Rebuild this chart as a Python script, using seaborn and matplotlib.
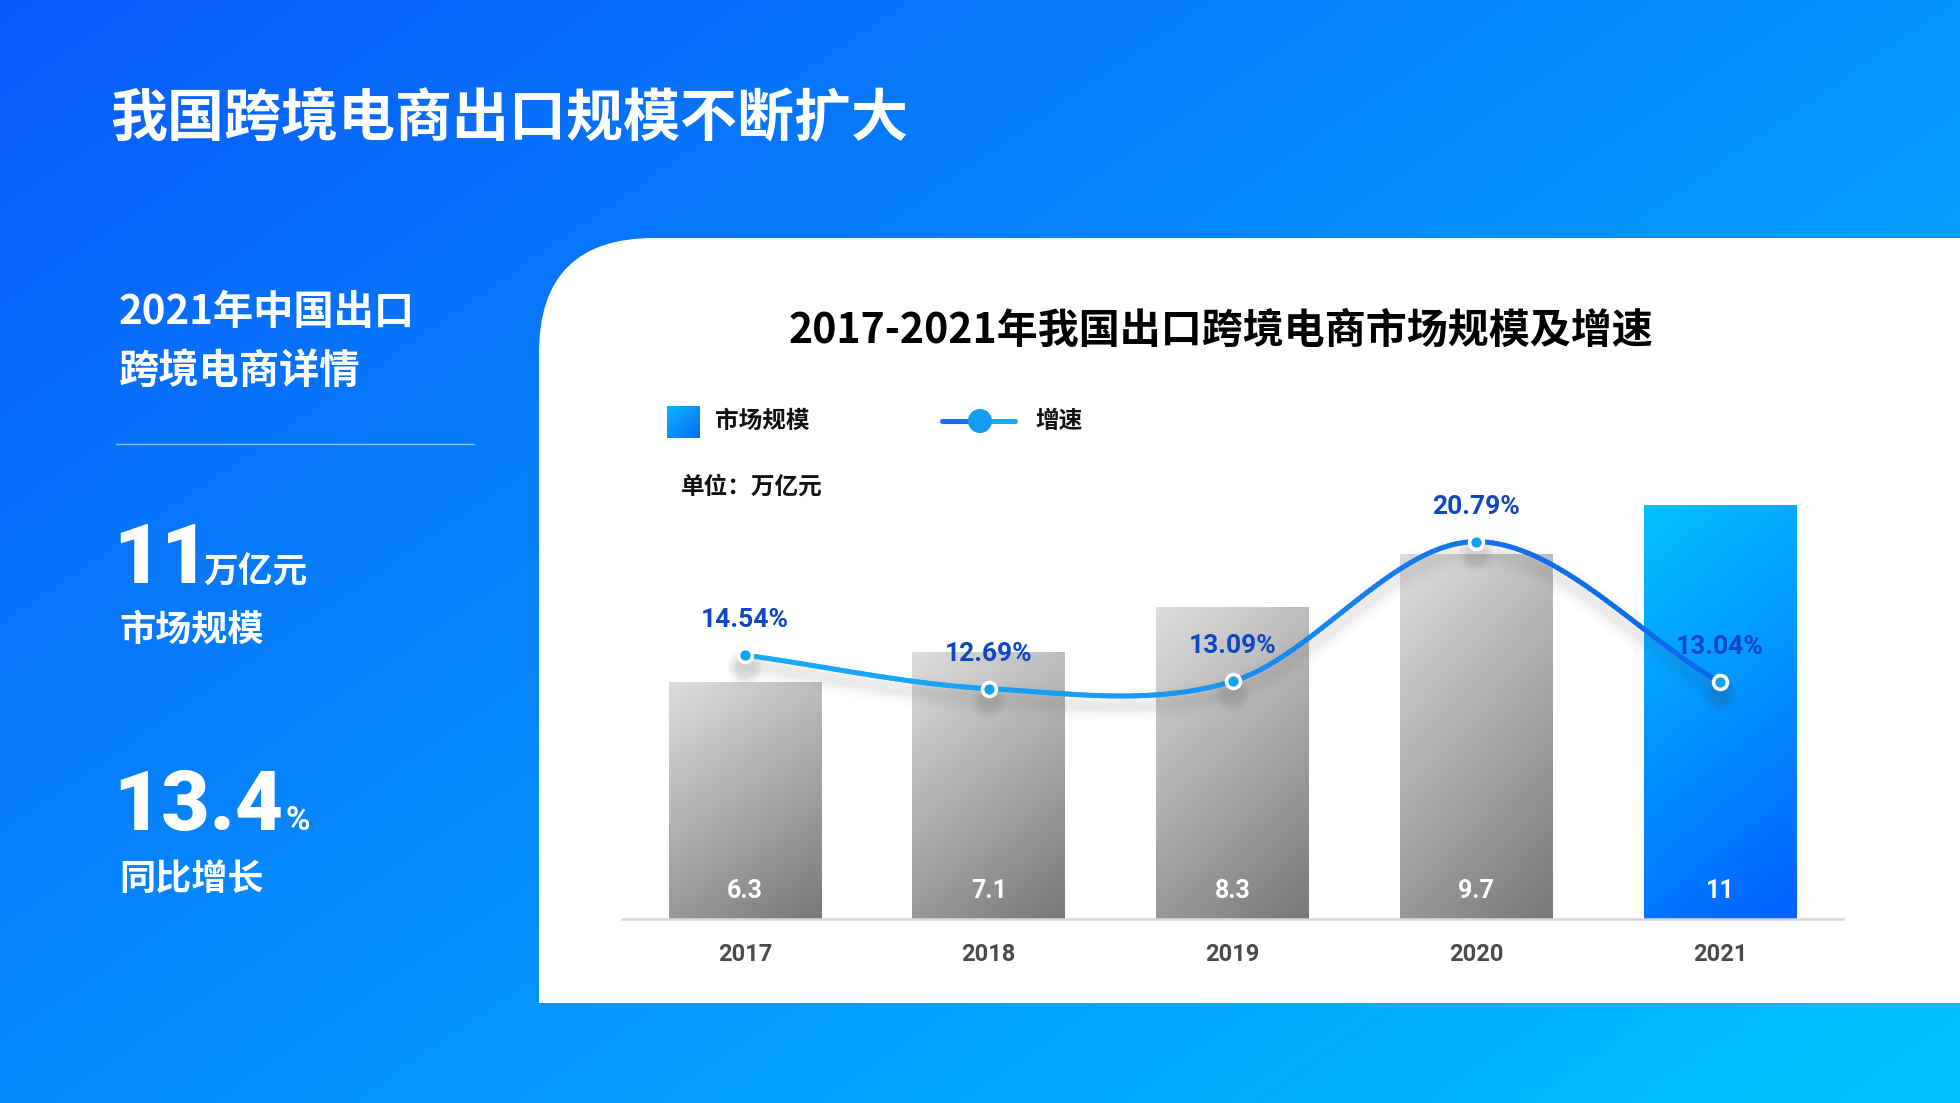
import numpy as np
import pandas as pd
import matplotlib
matplotlib.use('Agg')
import matplotlib.pyplot as plt
import seaborn as sns
from matplotlib.path import Path
from matplotlib.patches import PathPatch
from matplotlib.collections import LineCollection
from matplotlib.colors import LinearSegmentedColormap, to_rgb

# ---------------- data ----------------
years = ['2017', '2018', '2019', '2020', '2021']
market_size = [6.3, 7.1, 8.3, 9.7, 11]
growth = [14.54, 12.69, 13.09, 20.79, 13.04]
size_labels = ['6.3', '7.1', '8.3', '9.7', '11']
growth_labels = ['14.54%', '12.69%', '13.09%', '20.79%', '13.04%']

page_title = '我国跨境电商出口规模不断扩大'
chart_title = '2017-2021年我国出口跨境电商市场规模及增速'
side_head = ['2021年中国出口', '跨境电商详情']
kpi1_value, kpi1_unit, kpi1_label = '11', '万亿元', '市场规模'
kpi2_value, kpi2_unit, kpi2_label = '13.4', '%', '同比增长'
legend_bar, legend_line = '市场规模', '增速'
unit_text = '单位：万亿元'

df = pd.DataFrame({'year': years, 'size': market_size, 'growth': growth})

# ---------------- setup ----------------
W, H = 1960, 1103
sns.set_theme(style='white')
plt.rcParams['font.family'] = ['Noto Sans CJK SC', 'DejaVu Sans']
NUM = ['Roboto', 'Noto Sans CJK SC', 'DejaVu Sans']

fig = plt.figure(figsize=(W / 100, H / 100), dpi=100)
renderer = fig.canvas.get_renderer()

# background overlay axes in pixel coordinates (y down)
bg = fig.add_axes([0, 0, 1, 1])
bg.set_xlim(0, W)
bg.set_ylim(H, 0)
bg.axis('off')

yy, xx = np.mgrid[0:H:4, 0:W:4]
t = np.clip(xx / W * 0.55 + yy / H * 0.45, 0, 1)
c0 = np.array(to_rgb('#0a5afc'))
c1 = np.array(to_rgb('#00c4ff'))
img = c0 + (c1 - c0) * t[..., None]
bg.imshow(img, extent=(0, W, H, 0), aspect='auto', interpolation='bilinear', zorder=0)

# white card with rounded top-left corner
x0, x1, y0, y1, r = 539, W + 5, 238, 1003, 115
verts = [(x0, y1), (x0, y0 + r), (x0, y0), (x0 + r, y0), (x1, y0), (x1, y1), (x0, y1)]
codes = [Path.MOVETO, Path.LINETO, Path.CURVE3, Path.CURVE3, Path.LINETO, Path.LINETO, Path.CLOSEPOLY]
bg.add_patch(PathPatch(Path(verts, codes), facecolor='white', edgecolor='none', zorder=1))

# page title
bg.text(110, 119, page_title, color='white', fontsize=41, fontweight='heavy',
        ha='left', va='center', zorder=3)

# left side panel
bg.text(119, 312, side_head[0], color='white', fontsize=29, fontweight='bold', ha='left', va='center', zorder=3)
bg.text(119, 371, side_head[1], color='white', fontsize=29, fontweight='bold', ha='left', va='center', zorder=3)
bg.plot([116, 474], [444, 444], color='white', alpha=0.55, lw=1.0, zorder=3)

v1 = bg.text(113, 583, kpi1_value, color='white', fontsize=60, fontweight='black', family=NUM,
             ha='left', va='baseline', zorder=3)
x_after1 = v1.get_window_extent(renderer).x1
bg.text(x_after1 - 6, 583, kpi1_unit, color='white', fontsize=25, fontweight='bold',
        ha='left', va='baseline', zorder=3)
bg.text(119, 630, kpi1_label, color='white', fontsize=26, fontweight='bold', ha='left', va='center', zorder=3)

v2 = bg.text(113, 830, kpi2_value, color='white', fontsize=60, fontweight='black', family=NUM,
             ha='left', va='baseline', zorder=3)
x_after2 = v2.get_window_extent(renderer).x1
bg.text(x_after2 + 2, 830, kpi2_unit, color='white', fontsize=24, fontweight='bold', family=NUM,
        ha='left', va='baseline', zorder=3)
bg.text(119, 879, kpi2_label, color='white', fontsize=26, fontweight='bold', ha='left', va='center', zorder=3)

# chart title
bg.text(1221, 331, chart_title, color='black', fontsize=29.5, fontweight='bold', ha='center', va='center', zorder=3)

# legend
sq = np.linspace(0, 1, 50)
sv, su = np.meshgrid(sq, sq, indexing='ij')
st = np.clip(0.5 * su + 0.5 * sv, 0, 1)
ca, cb = np.array(to_rgb('#07b6ff')), np.array(to_rgb('#0a6cf5'))
bg.imshow(ca + (cb - ca) * st[..., None], extent=(667, 700, 438, 406), aspect='auto', zorder=3)
bg.text(715, 421, legend_bar, color='#111111', fontsize=17, fontweight='bold', ha='left', va='center', zorder=3)
bg.plot([942, 980], [421, 421], color='#1670ef', lw=3.6, solid_capstyle='round', zorder=3)
bg.plot([980, 1015], [421, 421], color='#19a8f4', lw=3.6, solid_capstyle='round', zorder=3)
bg.scatter([980], [421], s=300, color='#129cf5', edgecolor='none', zorder=4)
bg.text(1035, 421, legend_line, color='#111111', fontsize=17, fontweight='bold', ha='left', va='center', zorder=3)
bg.text(681, 487, unit_text, color='#111111', fontsize=17, fontweight='bold', ha='left', va='center', zorder=3)

# ---------------- chart ----------------
base_px, top_px = 919, 380
ax = fig.add_axes([622 / W, (H - base_px) / H, (1843 - 622) / W, (base_px - top_px) / H])
ax.patch.set_alpha(0)
ytop_bar = (base_px - top_px) / 37.6
ytop_line = (base_px - top_px) / 18.15

sns.barplot(data=df, x='year', y='size', ax=ax, width=0.627, color='#aaaaaa',
            saturation=1, errorbar=None, zorder=2)


def grad(c_top, c_bot, wu, wv, n=200):
    v, u = np.mgrid[0:1:n * 1j, 0:1:n * 1j]
    tt = np.clip((wu * u + wv * v) / (wu + wv), 0, 1)
    a, b = np.array(to_rgb(c_top)), np.array(to_rgb(c_bot))
    return a + (b - a) * tt[..., None]


gray_img = grad('#dedede', '#787878', 0.45, 1.0)
blue_img = grad('#04c2ff', '#0060ff', 0.3, 1.0)
for i, p in enumerate(ax.patches):
    bb = p.get_bbox()
    p.set_facecolor('none')
    p.set_edgecolor('none')
    im = ax.imshow(blue_img if i == len(ax.patches) - 1 else gray_img,
                   extent=(bb.x0, bb.x1, bb.y0, bb.y1), aspect='auto',
                   interpolation='bilinear', zorder=2)
    im.set_clip_path(p)

for i, lab in enumerate(size_labels):
    ax.annotate(lab, (i, 0), xytext=(0, 28), textcoords='offset pixels', ha='center', va='center',
                color='white', fontsize=18, fontweight='bold', family=NUM, zorder=5)

ax.set_xlim(-0.505, 4.505)
ax.set_ylim(0, ytop_bar)
ax.set_xlabel('')
ax.set_ylabel('')
ax.set_yticks([])
for s in ['left', 'right', 'top']:
    ax.spines[s].set_visible(False)
ax.spines['bottom'].set_color('#d8d8d8')
ax.spines['bottom'].set_linewidth(1.8)
ax.tick_params(axis='x', length=0, pad=17, labelsize=17, labelcolor='#4a4a4a')
for tl in ax.get_xticklabels():
    tl.set_fontweight('bold')
    tl.set_family(NUM)

# line on secondary axis
ax2 = ax.twinx()
ax2.patch.set_alpha(0)
ax2.set_ylim(0, ytop_line)
ax2.set_yticks([])
for s in ax2.spines.values():
    s.set_visible(False)


def catmull(xs, ys, n=60):
    P = np.column_stack([xs, ys]).astype(float)
    P = np.vstack([2 * P[0] - P[1], P, 2 * P[-1] - P[-2]])
    out = []
    for k in range(1, len(P) - 2):
        p0, p1, p2, p3 = P[k - 1], P[k], P[k + 1], P[k + 2]
        tt = np.linspace(0, 1, n, endpoint=False)[:, None]
        seg = 0.5 * ((2 * p1) + (-p0 + p2) * tt + (2 * p0 - 5 * p1 + 4 * p2 - p3) * tt ** 2
                     + (-p0 + 3 * p1 - 3 * p2 + p3) * tt ** 3)
        out.append(seg)
    out.append(P[-2][None, :])
    return np.vstack(out)


xpos = np.arange(len(years))
curve = catmull(xpos, growth)

# soft shadow
for lw, al in [(22, 0.018), (16, 0.025), (11, 0.03), (7, 0.035)]:
    ax2.plot(curve[:, 0], curve[:, 1] - 0.55, color='#555555', lw=lw, alpha=al,
             solid_capstyle='round', zorder=1)
    ax2.scatter(xpos, np.array(growth) - 0.7, s=lw * 30, color='#444444', alpha=al * 1.5,
                edgecolor='none', zorder=1)

pts = curve.reshape(-1, 1, 2)
segs = np.concatenate([pts[:-1], pts[1:]], axis=1)
cmap = LinearSegmentedColormap.from_list('ln', [(0, '#17adf5'), (0.45, '#1a96f2'),
                                                (0.75, '#1471ee'), (1, '#0e66ea')])
lc = LineCollection(segs, cmap=cmap, norm=plt.Normalize(0, 4), linewidth=3.6,
                    capstyle='round', zorder=3)
lc.set_array(curve[:-1, 0])
ax2.add_collection(lc)

sns.scatterplot(x=xpos, y=growth, ax=ax2, s=100, color='#12a0f5', edgecolor='white',
                linewidth=2.6, zorder=4, legend=False)

for i, lab in enumerate(growth_labels):
    ax2.annotate(lab, (i, growth[i]), xytext=(0, 35), textcoords='offset pixels', ha='center',
                 va='center', color='#0d47c4', fontsize=19, fontweight='bold', family=NUM, zorder=5)

ax2.set_xlim(-0.505, 4.505)
ax2.set_ylim(0, ytop_line)

fig.savefig('out.png', dpi=100)
